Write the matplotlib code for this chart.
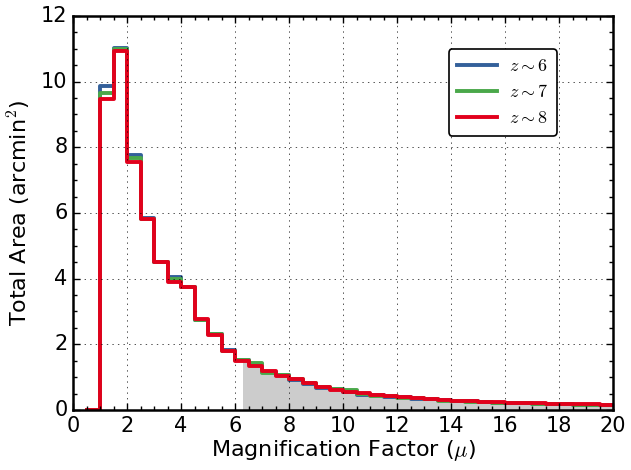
import matplotlib
matplotlib.use("Agg")
import matplotlib.pyplot as plt
import numpy as np

plt.style.use("classic")

# bin edges of the magnification histogram (width 0.5)
edges = np.arange(0.5, 20.01, 0.5)

# total area per bin, arcmin^2
area_z6 = [0, 9.88, 11.03, 7.77, 5.84, 4.52, 4.06, 3.76, 2.74, 2.31,
           1.84, 1.52, 1.40, 1.15, 1.08, 0.90, 0.80, 0.68, 0.63, 0.55,
           0.45, 0.45, 0.41, 0.40, 0.33, 0.32, 0.29, 0.27, 0.26, 0.24,
           0.22, 0.21, 0.20, 0.19, 0.18, 0.17, 0.16, 0.16, 0.15]
area_z7 = [0, 9.65, 10.98, 7.66, 5.83, 4.51, 3.98, 3.75, 2.75, 2.30,
           1.81, 1.51, 1.42, 1.13, 1.07, 0.93, 0.81, 0.69, 0.63, 0.60,
           0.48, 0.44, 0.42, 0.37, 0.36, 0.32, 0.28, 0.27, 0.25, 0.24,
           0.22, 0.21, 0.20, 0.19, 0.18, 0.17, 0.16, 0.16, 0.15]
area_z8 = [0, 9.48, 10.92, 7.55, 5.81, 4.50, 3.89, 3.74, 2.76, 2.29,
           1.79, 1.50, 1.35, 1.18, 1.04, 0.95, 0.82, 0.70, 0.62, 0.56,
           0.51, 0.47, 0.43, 0.39, 0.35, 0.33, 0.31, 0.28, 0.26, 0.24,
           0.23, 0.22, 0.21, 0.20, 0.19, 0.18, 0.17, 0.17, 0.16]

labels = [r"$z\sim6$", r"$z\sim7$", r"$z\sim8$"]
colors = ["#33609a", "#4aa84a", "#e2001c"]
mu_cut = 6.28  # start of the shaded high-magnification region

fig = plt.figure(figsize=(6.31, 4.70), dpi=100, facecolor="white")
ax = fig.add_axes([0.1157, 0.1277, 0.8558, 0.8383])

# shaded region under the curves above mu_cut
low = np.minimum(np.minimum(area_z6, area_z7), area_z8)
xs = np.concatenate([[mu_cut], edges[edges > mu_cut]])
i0 = np.searchsorted(edges, mu_cut) - 1
ys = np.concatenate([low[i0:], [low[-1]]])
ax.fill_between(xs, 0, ys, step="post", color="#cccccc", lw=0, zorder=1)

for vals, lab, c in zip([area_z6, area_z7, area_z8], labels, colors):
    ax.step(edges, np.append(vals, vals[-1]), where="post", color=c,
            lw=2.8, label=lab, zorder=2)

ax.set_xlim(0, 20)
ax.set_ylim(0, 12)
ax.set_xticks(np.arange(0, 21, 2))
ax.set_yticks(np.arange(0, 13, 2))
ax.set_xticks(np.arange(0, 20.01, 0.5), minor=True)
ax.set_yticks(np.arange(0, 12.01, 0.5), minor=True)
ax.tick_params(labelsize=15)
ax.tick_params(which="major", length=5, width=1)
ax.tick_params(which="minor", length=3, width=1)
for s in ax.spines.values():
    s.set_linewidth(1.8)
ax.grid(True, color="k", linestyle=":", linewidth=0.6, alpha=0.8)

ax.set_xlabel(r"Magnification Factor ($\mu$)", fontsize=16, labelpad=2)
ax.set_ylabel(r"Total Area (arcmin$^2$)", fontsize=16, labelpad=6)

leg = ax.legend(loc="upper right", bbox_to_anchor=(0.896, 0.916),
                borderaxespad=0, fontsize=13, fancybox=True,
                handlelength=2.2, handletextpad=0.7, borderpad=0.45,
                labelspacing=0.45, numpoints=1)
leg.get_frame().set_linewidth(1.2)
leg.get_frame().set_edgecolor("k")

fig.savefig("out.png", dpi=100, facecolor="white")
